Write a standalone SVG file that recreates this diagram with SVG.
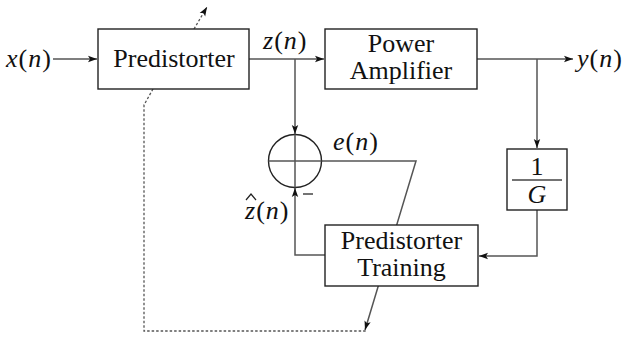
<svg xmlns="http://www.w3.org/2000/svg" width="623" height="338" viewBox="0 0 623 338">
<style>
.box{fill:#fff;stroke:#222;stroke-width:1.4}
.ln{fill:none;stroke:#555;stroke-width:1.5}
.dash{fill:none;stroke:#555;stroke-width:1.3;stroke-dasharray:2.5 2}
text{font-family:'Liberation Serif','Times New Roman','DejaVu Serif',serif;font-size:26px;fill:#111}
.i{font-style:italic}
.m{letter-spacing:1px}
</style>
<defs>
<marker id="ah" markerWidth="10" markerHeight="8" refX="9" refY="4" orient="auto" markerUnits="userSpaceOnUse">
<path d="M0,0.8 L9,4 L0,7.2 L2,4 Z" fill="#111"/>
</marker>
</defs>
<rect width="623" height="338" fill="#fff"/>
<g id="connectors">
<line class="ln" x1="53" y1="59" x2="97" y2="59" marker-end="url(#ah)"/>
<line class="ln" x1="249" y1="59" x2="324" y2="59" marker-end="url(#ah)"/>
<line class="ln" x1="477" y1="59" x2="573" y2="59" marker-end="url(#ah)"/>
<line class="ln" x1="295" y1="59" x2="295" y2="134" marker-end="url(#ah)"/>
<line class="ln" x1="537" y1="59" x2="537" y2="148" marker-end="url(#ah)"/>
<polyline class="ln" points="537,210 537,256 479,256" marker-end="url(#ah)"/>
<polyline class="ln" points="325,255 295,255 295,188" marker-end="url(#ah)"/>
<polyline class="ln" points="321,161 416,161 365,330" marker-end="url(#ah)"/>
<line class="dash" x1="194" y1="29" x2="207" y2="7" marker-end="url(#ah)"/>
<polyline class="dash" points="153,89 144,105 144,331 366,331"/>
</g>
<g id="summer">
<circle cx="295" cy="161" r="26.5" fill="#fff" stroke="#222" stroke-width="1.4"/>
<line class="ln" x1="268.5" y1="161" x2="321.5" y2="161"/>
<line class="ln" x1="295" y1="134.5" x2="295" y2="187.5"/>
<line x1="303" y1="194" x2="313" y2="194" stroke="#444" stroke-width="1.5"/>
</g>
<g id="training">
<rect class="box" x="325" y="225" width="153" height="61"/>
<text x="401.5" y="249" text-anchor="middle">Predistorter</text>
<text x="401.5" y="276" text-anchor="middle">Training</text>
</g>
<g id="predistorter">
<rect class="box" x="98" y="29" width="151" height="60"/>
<text x="174" y="67" text-anchor="middle">Predistorter</text>
</g>
<g id="pa">
<rect class="box" x="325" y="29" width="152" height="60"/>
<text x="401" y="52" text-anchor="middle">Power</text>
<text x="401" y="79" text-anchor="middle">Amplifier</text>
</g>
<g id="gain">
<rect class="box" x="507" y="149" width="60" height="61"/>
<text x="537" y="175" text-anchor="middle">1</text>
<line x1="512" y1="180" x2="562" y2="180" stroke="#444" stroke-width="1.4"/>
<text class="i" x="537" y="203" text-anchor="middle">G</text>
</g>
<g id="labels">
<text class="m" x="6" y="67"><tspan class="i">x</tspan>(<tspan class="i">n</tspan>)</text>
<text class="m" x="263" y="49"><tspan class="i">z</tspan>(<tspan class="i">n</tspan>)</text>
<text class="m" x="577" y="67"><tspan class="i">y</tspan>(<tspan class="i">n</tspan>)</text>
<text class="m" x="333" y="150"><tspan class="i">e</tspan>(<tspan class="i">n</tspan>)</text>
<text class="m" x="245" y="219"><tspan class="i">z</tspan>(<tspan class="i">n</tspan>)</text>
<path d="M246,200 L251,194 L256,200" fill="none" stroke="#222" stroke-width="1.2"/>
</g>
</svg>
